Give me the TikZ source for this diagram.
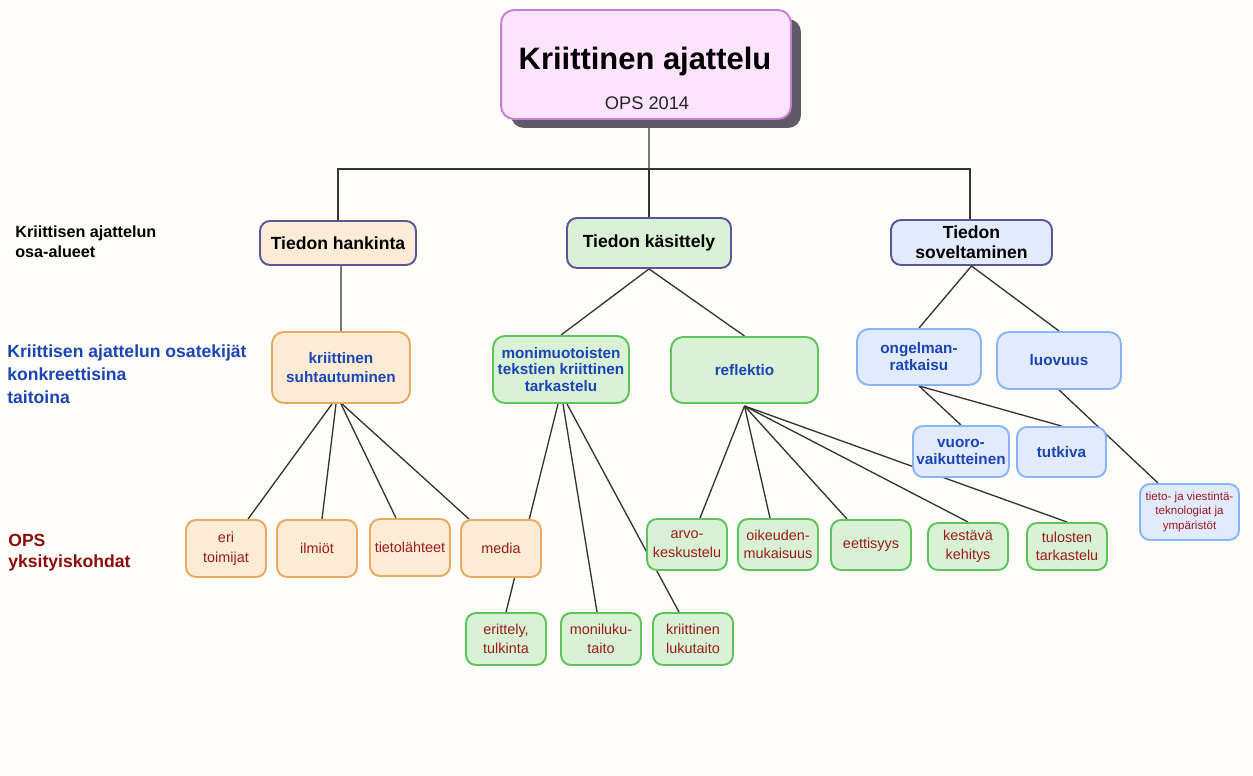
\documentclass[tikz,border=0pt]{standalone}
\usepackage{fontspec}
\setmainfont{Liberation Sans}
\usetikzlibrary{backgrounds}
\definecolor{cbg}{HTML}{FEFDFA}
\definecolor{ctitlefill}{HTML}{FDE3FD}
\definecolor{ctitledraw}{HTML}{C67FD6}
\definecolor{cshadow}{HTML}{5E5A68}
\definecolor{cindigo}{HTML}{5A5598}
\definecolor{cpeach}{HTML}{FDEBD5}
\definecolor{corange}{HTML}{E9A95F}
\definecolor{cgreenfill}{HTML}{D9F2D6}
\definecolor{cgreendraw}{HTML}{5DC35A}
\definecolor{cbluefill}{HTML}{E2EAFD}
\definecolor{cbluedraw}{HTML}{89B5F8}
\definecolor{cbluetext}{HTML}{1B45B5}
\definecolor{credtext}{HTML}{9A1B1B}
\definecolor{credlabel}{HTML}{8B0D0D}
\definecolor{cline}{HTML}{333333}
\begin{document}
\begin{tikzpicture}[x=0.02cm,y=-0.02cm,
  conn/.style={draw=cline, line width=0.75pt},
  bx/.style={draw, rounded corners=0.2cm, line width=1.1pt, align=center, inner sep=0pt},
  lone/.style={bx, draw=cindigo, text=black, font=\fontsize{10}{11.3}\selectfont\bfseries},
  omid/.style={bx, rounded corners=0.24cm, draw=corange, fill=cpeach, text=cbluetext, font=\fontsize{8.7}{10.8}\selectfont\bfseries},
  gmid/.style={bx, rounded corners=0.24cm, draw=cgreendraw, fill=cgreenfill, text=cbluetext, font=\fontsize{8.7}{10.8}\selectfont\bfseries},
  bmid/.style={bx, rounded corners=0.24cm, draw=cbluedraw, fill=cbluefill, text=cbluetext, font=\fontsize{8.7}{9.7}\selectfont\bfseries},
  oleaf/.style={bx, draw=corange, fill=cpeach, text=credtext, font=\fontsize{8.2}{11.3}\selectfont, minimum width=1.6cm, minimum height=1.14cm},
  gleaf/.style={bx, draw=cgreendraw, fill=cgreenfill, text=credtext, font=\fontsize{8.2}{10.6}\selectfont, minimum width=1.6cm},
  sidelabel/.style={anchor=west, align=left, inner sep=0pt}
]
% title
\node[draw=none, fill=cshadow, rounded corners=0.26cm, minimum width=5.8cm, minimum height=2.18cm] (shd) at (656,73.5) {};
\node[bx, rounded corners=0.26cm, draw=ctitledraw, fill=ctitlefill, minimum width=5.8cm, minimum height=2.18cm] (ttl) at (646,64.5) {};
\node[anchor=base, inner sep=0pt, font=\fontsize{17.6}{20}\selectfont\bfseries] (ttltext) at (645,70) {Kriittinen ajattelu};
\node[anchor=base, inner sep=0pt, font=\fontsize{10.4}{12}\selectfont, text=black!85] (opstext) at (647,110) {OPS 2014};
% side labels
\node[sidelabel, font=\fontsize{9.2}{11.3}\selectfont\bfseries] (lab1) at (15,242) {Kriittisen ajattelun\\osa-alueet};
\node[sidelabel, text=cbluetext, font=\fontsize{10}{13}\selectfont\bfseries] (lab2) at (7,374) {Kriittisen ajattelun osatekijät\\konkreettisina\\taitoina};
\node[sidelabel, text=credlabel, font=\fontsize{10}{12}\selectfont\bfseries] (lab3) at (8,552.5) {OPS\\yksityiskohdat};
% level 1
\node[lone, fill=cpeach, minimum width=3.12cm, minimum height=0.88cm] (th) at (338,243) {Tiedon hankinta};
\node[lone, fill=cgreenfill, minimum width=3.28cm, minimum height=1.0cm] (tk) at (649,243) {Tiedon käsittely};
\node[lone, fill=cbluefill, minimum width=3.22cm, minimum height=0.9cm] (ts) at (971.5,242.5) {Tiedon\\soveltaminen};
% level 2
\node[omid, minimum width=2.76cm, minimum height=1.42cm] (ks) at (341,367.5) {kriittinen\\suhtautuminen};
\node[gmid, font=\fontsize{8.7}{9.6}\selectfont\bfseries, minimum width=2.72cm, minimum height=1.34cm] (mm) at (561,369.5) {monimuotoisten\\tekstien kriittinen\\tarkastelu};
\node[gmid, minimum width=2.94cm, minimum height=1.32cm] (rf) at (744.5,370) {reflektio};
\node[bmid, minimum width=2.48cm, minimum height=1.12cm] (og) at (919,357) {ongelman-\\ratkaisu};
\node[bmid, minimum width=2.48cm, minimum height=1.14cm] (lv) at (1059,360.5) {luovuus};
% level 3 blue
\node[bmid, rounded corners=0.2cm, minimum width=1.92cm, minimum height=1.02cm] (vv) at (961,451.5) {vuoro-\\vaikutteinen};
\node[bmid, rounded corners=0.2cm, minimum width=1.78cm, minimum height=1.0cm] (tu) at (1061.5,452) {tutkiva};
\node[bx, draw=cbluedraw, fill=cbluefill, text=credtext, font=\fontsize{6.6}{8.4}\selectfont, minimum width=1.98cm, minimum height=1.12cm] (tv) at (1189.5,512) {tieto- ja viestintä-\\teknologiat ja\\ympäristöt};
% orange leaves
\node[oleaf] (eri) at (226,548.5) {eri\\toimijat};
\node[oleaf] (il) at (317,548.5) {ilmiöt};
\node[oleaf] (tl) at (410,547.5) {tietolähteet};
\node[oleaf] (md) at (501,548.5) {media};
% green leaves row 1
\node[gleaf, minimum height=1.02cm] (ar) at (687,544.5) {arvo-\\keskustelu};
\node[gleaf, minimum height=1.02cm] (om) at (778,544.5) {oikeuden-\\mukaisuus};
\node[gleaf, minimum height=1.0cm] (ee) at (871,545) {eettisyys};
\node[gleaf, minimum height=0.94cm] (kk) at (968,546.5) {kestävä\\kehitys};
\node[gleaf, minimum height=0.94cm] (tt) at (1067,546.5) {tulosten\\tarkastelu};
% green leaves row 2
\node[gleaf, minimum height=1.04cm] (et) at (506,639) {erittely,\\tulkinta};
\node[gleaf, minimum height=1.04cm] (ml) at (601,639) {moniluku-\\taito};
\node[gleaf, minimum height=1.04cm] (kl) at (693,639) {kriittinen\\lukutaito};
\coordinate (hub) at (649,169);
\begin{scope}[on background layer]
\fill[cbg] (0,0) rectangle (1253,776);
% title tree
\draw[conn] ([xshift=0.06cm]ttl.south) -- (hub);
\draw[conn] (hub) -| (th.north);
\draw[conn] (hub) -| ([xshift=-0.03cm]ts.north);
\draw[conn] (hub) -- (tk.north);
% level1 to level2
\draw[conn] ([xshift=0.06cm]th.south) -- (ks.north);
\draw[conn] (tk.south) -- (mm.north);
\draw[conn] (tk.south) -- (rf.north);
\draw[conn] (ts.south) -- (og.north);
\draw[conn] (ts.south) -- (lv.north);
% ks to leaves
\draw[conn] ([xshift=-0.18cm]ks.south) -- ([xshift=0.44cm]eri.north);
\draw[conn] ([xshift=-0.1cm]ks.south) -- ([xshift=0.1cm]il.north);
\draw[conn] (ks.south) -- ([xshift=-0.28cm]tl.north);
\draw[conn] ([xshift=0.02cm]ks.south) -- ([xshift=-0.64cm]md.north);
% mm to leaves
\draw[conn] ([xshift=-0.06cm]mm.south) -- (et.north);
\draw[conn] ([xshift=0.04cm]mm.south) -- ([xshift=-0.08cm]ml.north);
\draw[conn] ([xshift=0.12cm]mm.south) -- ([xshift=-0.28cm]kl.north);
% rf to leaves
\draw[conn] ([yshift=-0.04cm]rf.south) -- ([xshift=0.26cm]ar.north);
\draw[conn] ([yshift=-0.04cm]rf.south) -- ([xshift=-0.16cm]om.north);
\draw[conn] ([yshift=-0.04cm]rf.south) -- ([xshift=-0.48cm]ee.north);
\draw[conn] ([yshift=-0.04cm]rf.south) -- (kk.north);
\draw[conn] ([yshift=-0.04cm]rf.south) -- (tt.north);
% og, lv
\draw[conn] (og.south) -- (vv.north);
\draw[conn] (og.south) -- (tu.north);
\draw[conn] (lv.south) -- ([xshift=-0.63cm]tv.north);
\end{scope}
\end{tikzpicture}
\end{document}
